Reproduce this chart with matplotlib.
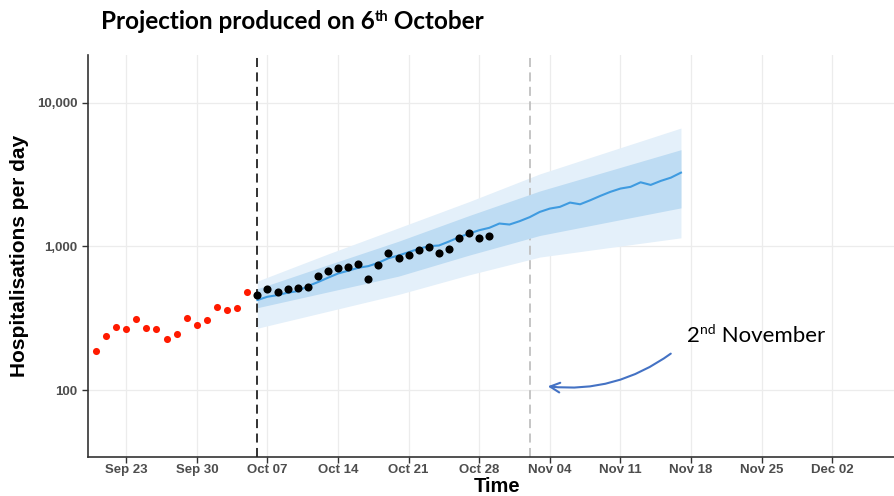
import matplotlib
matplotlib.use('Agg')
import matplotlib.pyplot as plt
import matplotlib.dates as mdates
import matplotlib.transforms as mtransforms
from matplotlib.patches import FancyArrowPatch
import numpy as np

# ---------------- data ----------------
red_start = '2020-09-20'
red_values = [188, 240, 274, 267, 313, 270, 267, 226, 246, 318, 284, 310,
              381, 361, 375, 485]
black_start = '2020-10-06'
black_values = [462, 503, 479, 508, 511, 519, 619, 678, 703, 715, 758, 597,
                741, 898, 829, 876, 943, 995, 904, 964, 1155, 1245, 1149, 1192]
median_start = '2020-10-06'
median_values = [424, 447, 459, 477, 489, 530, 565, 606, 649, 678, 711, 730,
                 770, 829, 866, 913, 964, 1005, 1016, 1083, 1161, 1231, 1298,
                 1349, 1445, 1422, 1500, 1600, 1740, 1836, 1887, 2021, 1967,
                 2097, 2249, 2400, 2530, 2600, 2797, 2682, 2860, 3013, 3265]
band_dates = ['2020-10-06', '2020-10-13', '2020-10-20', '2020-10-27',
              '2020-11-03', '2020-11-10', '2020-11-17']
outer_upper = [574, 887, 1348, 2053, 3198, 4620, 6670]
inner_upper = [508, 745, 1088, 1642, 2433, 3388, 4716]
inner_lower = [375, 483, 622, 871, 1193, 1489, 1857]
outer_lower = [270, 354, 464, 635, 844, 985, 1149]
projection_date = '2020-10-06'
marker_date = '2020-11-02'
x_ticks = ['2020-09-23', '2020-09-30', '2020-10-07', '2020-10-14', '2020-10-21',
           '2020-10-28', '2020-11-04', '2020-11-11', '2020-11-18', '2020-11-25',
           '2020-12-02']
y_ticks = [100, 1000, 10000]
y_tick_labels = ['100', '1,000', '10,000']

# ---------------- figure ----------------
W, H = 894, 496
fig = plt.figure(figsize=(W / 100, H / 100), dpi=100)
ax = fig.add_axes([88 / W, 1 - 457 / H, (W - 88) / W, (457 - 55) / H])

def dseq(start, n):
    return np.datetime64(start) + np.arange(n).astype('timedelta64[D]')

red_x = dseq(red_start, len(red_values))
black_x = dseq(black_start, len(black_values))
med_x = dseq(median_start, len(median_values))
band_x = np.array(band_dates, dtype='datetime64[D]')

ax.fill_between(band_x, outer_lower, outer_upper, color='#e4f0fa', lw=0, zorder=1)
ax.fill_between(band_x, inner_lower, inner_upper, color='#bedcf3', lw=0, zorder=2)
ax.plot(med_x, median_values, color='#3f9be0', lw=1.5, zorder=3)

ax.axvline(np.datetime64(projection_date), color='#222222', lw=1.3,
           dashes=(5, 3), zorder=4)
ax.axvline(np.datetime64(marker_date), color='#c0c0c0', lw=1.3,
           dashes=(5, 3), zorder=1.5)

ax.scatter(red_x, red_values, s=26, color='#ff1a00', lw=0, zorder=5)
ax.scatter(black_x, black_values, s=34, color='black', lw=0, zorder=6)

ax.set_yscale('log')
ax.set_ylim(34.3, 21500)
ax.set_xlim(np.datetime64('2020-09-19T05'), np.datetime64('2020-12-08T03'))

ax.set_yticks(y_ticks)
ax.set_yticklabels(y_tick_labels)
ax.yaxis.set_minor_locator(matplotlib.ticker.NullLocator())
ax.set_xticks(np.array(x_ticks, dtype='datetime64[D]'))
ax.xaxis.set_major_formatter(mdates.DateFormatter('%b %d'))

ax.grid(True, color='#ececec', lw=0.9, zorder=0)
ax.set_axisbelow(True)
for s in ['top', 'right']:
    ax.spines[s].set_visible(False)
for s in ['left', 'bottom']:
    ax.spines[s].set_color('#333333')
    ax.spines[s].set_linewidth(1.2)
ax.tick_params(axis='both', colors='#333333', length=4, width=1.0,
               labelcolor='#4d4d4d', labelsize=9.5)
ax.tick_params(axis='x', pad=1.0)
for lab in ax.get_xticklabels() + ax.get_yticklabels():
    lab.set_fontweight('bold')
    lab.set_family('Liberation Sans')

ax.set_ylabel('Hospitalisations per day', fontsize=15, fontweight='bold',
              family='Liberation Sans', labelpad=6)

# ---------------- texts placed in pixels ----------------
fig.canvas.draw()
renderer = fig.canvas.get_renderer()
pix = mtransforms.IdentityTransform()

fig.text(497, H - 492, 'Time', fontsize=14.5, fontweight='bold',
         family='Liberation Sans', transform=pix, ha='center', va='baseline')

def rich(x, y_top_based, pieces):
    y = H - y_top_based
    cur = x
    for txt, size, dy, weight in pieces:
        t = fig.text(cur, y + dy, txt, fontsize=size, fontweight=weight,
                     family='Lato', transform=pix, va='baseline', ha='left')
        bb = t.get_window_extent(renderer)
        cur = bb.x1

rich(101, 29, [('Projection produced on 6', 17.5, 0, 'bold'),
               ('th', 10.5, 8, 'bold'),
               (' October', 17.5, 0, 'bold')])
rich(687, 342, [('2', 16, 0, 'normal'),
                ('nd', 10, 8, 'normal'),
                (' November', 16, 0, 'normal')])

arrow = FancyArrowPatch((673, H - 352), (545, H - 386), transform=pix,
                        connectionstyle='arc3,rad=-0.2',
                        arrowstyle='->,head_length=7,head_width=3.5',
                        color='#4472c4', lw=1.5, mutation_scale=1)
fig.patches.append(arrow)

fig.savefig('out.png', dpi=100)
